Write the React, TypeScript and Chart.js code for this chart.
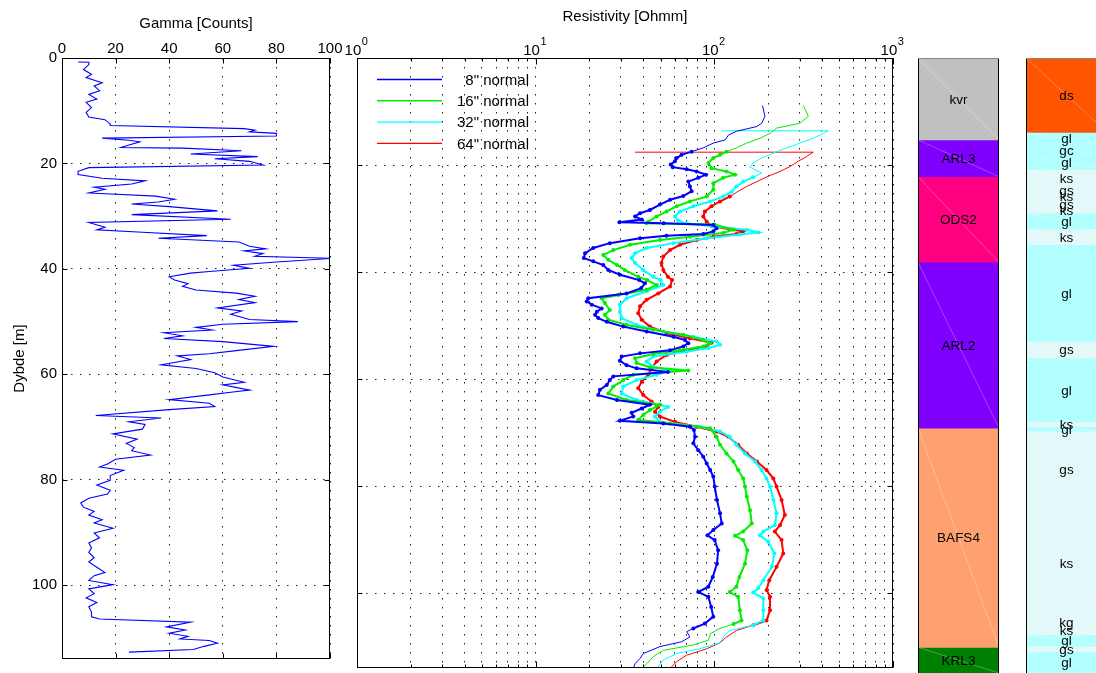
import React, { useEffect, useRef } from 'react';
import { Chart, registerables } from 'chart.js';
Chart.register(...registerables);

const FONT = '"Liberation Sans", Arial, Helvetica, sans-serif';

// ---------------- Gamma log ----------------
const gammaDepth = [0.76, 0.8, 1.25, 2.2, 3.1, 3.7, 4.7, 5.3, 6.2, 6.9, 7.8, 8.4, 9.4, 10.3, 11.2, 11.7, 12.5, 12.8, 13.4, 13.7, 14.0, 14.3, 14.8, 15.2, 15.6, 15.9, 16.5, 16.97, 17.1, 17.6, 18.2, 18.7, 19.1, 19.6, 20.3, 20.8, 21.5, 22.1, 22.8, 23.3, 23.9, 24.5, 24.9, 25.6, 26.2, 26.8, 27.3, 27.7, 28.2, 29.0, 29.7, 30.6, 31.2, 32.1, 32.6, 33.05, 33.7, 34.2, 34.9, 35.7, 36.2, 36.6, 37.1, 37.6, 38.0, 38.7, 39.3, 39.9, 40.5, 40.8, 41.5, 42.1, 42.8, 43.3, 44.0, 44.6, 45.2, 45.8, 46.4, 47.4, 48.0, 48.6, 49.3, 49.6, 50.0, 50.5, 51.1, 51.6, 52.1, 52.7, 53.2, 53.8, 54.7, 55.5, 56.1, 56.5, 57.2, 58.2, 58.9, 59.7, 60.5, 61.5, 62.0, 63.0, 63.4, 63.9, 64.8, 65.5, 66.1, 66.7, 67.8, 68.3, 69.0, 69.5, 70.4, 71.3, 72.3, 73.1, 73.9, 74.5, 75.3, 76.1, 77.0, 77.6, 78.2, 79.2, 80.1, 81.0, 82.0, 82.7, 83.5, 84.4, 85.2, 86.0, 86.7, 87.6, 88.2, 89.2, 90.1, 91.0, 92.0, 92.9, 93.8, 94.8, 95.6, 96.6, 97.6, 98.2, 99.1, 99.9, 100.7, 101.6, 102.4, 103.3, 104.1, 105.1, 106.0, 106.4, 107.0, 107.9, 108.5, 109.1, 109.7, 110.2, 110.5, 111.0, 111.6, 112.2, 112.7];
const gammaCounts = [6, 10, 10, 8, 11, 9, 15, 12, 14, 10, 13, 9, 11, 9, 10, 16, 18, 18, 68, 72, 70, 80, 80, 15, 25, 29, 25, 22, 45, 67, 48, 73, 57, 70, 75, 10, 6, 6, 15, 31, 26, 12, 16, 10, 35, 42, 36, 26, 40, 58, 26, 63, 10, 16, 13, 30, 54, 36, 66, 70, 76, 68, 75, 72, 101, 80, 64, 70, 55, 48, 40, 42, 47, 45, 50, 65, 72, 66, 72, 58, 67, 63, 68, 70, 88, 60, 50, 56, 38, 45, 38, 60, 79, 65, 55, 43, 48, 37, 50, 57, 60, 68, 60, 70, 63, 55, 40, 55, 57, 40, 12.6, 37, 25, 31, 30, 19, 28, 24, 27, 26, 33, 20, 17, 14, 23, 18, 18, 13, 18, 17, 10, 7, 8, 12, 10, 15, 12, 19, 12, 14, 10, 11, 10, 12, 10, 13, 16, 12, 10, 19, 10, 12, 9, 13, 10, 11, 11, 14, 48, 39, 46, 40, 47, 44, 55, 58, 53, 49, 25];

// ---------------- Resistivity logs ----------------
const res8Depth = [8.9, 10.9, 12.2, 12.8, 13.7, 14.4, 15.3, 15.9, 16.8, 17.5, 18.1, 18.7, 19.3, 19.9, 20.4, 20.8, 21.2, 21.8, 22.4, 23.1, 24.0, 24.9, 25.8, 26.5, 27.4, 28.4, 29.0, 29.6, 30.2, 30.7, 30.9, 31.2, 31.8, 32.4, 32.9, 33.2, 33.7, 34.6, 35.5, 36.5, 37.4, 38.0, 38.7, 39.6, 40.5, 41.5, 42.1, 43.0, 44.0, 44.9, 45.5, 46.1, 46.8, 47.4, 48.0, 48.6, 49.3, 50.2, 51.1, 52.1, 52.7, 53.3, 53.9, 54.6, 55.2, 55.8, 56.6, 57.4, 58.0, 58.7, 59.5, 60.2, 61.1, 62.0, 63.0, 63.9, 64.8, 65.5, 66.3, 67.0, 67.8, 68.3, 68.9, 69.5, 70.8, 72.0, 73.3, 74.5, 75.8, 77.0, 78.2, 80.1, 82.6, 85.1, 87.0, 88.2, 89.2, 90.1, 92.0, 94.5, 97.0, 98.8, 99.8, 100.7, 102.6, 104.4, 105.7, 106.6, 107.2, 108.2, 109.1, 110.0, 111.3, 112.2, 113.2, 114.1];
const res8Ohmm = [186, 192, 184, 173, 133, 120, 115, 98.7, 86.7, 74.6, 65.6, 61.5, 60.2, 57, 58.5, 70, 79.6, 89.8, 81.3, 71.5, 73, 74.6, 67, 56.5, 49.6, 43.6, 38.4, 36, 39.2, 29.4, 52, 98.7, 103, 98.7, 86.7, 54, 38.4, 26, 21, 18.9, 18.6, 21, 23.9, 25.5, 29.6, 38, 40.9, 39, 32.3, 19.7, 19.3, 20.6, 23.4, 22, 21.5, 22.4, 25, 30.9, 41.8, 59, 68.5, 71.5, 67, 56.5, 38.4, 30.3, 29.6, 32.3, 36.7, 55, 27.2, 26, 25, 22.9, 22.4, 28.5, 43.6, 39.2, 34.4, 35.2, 29.6, 51.8, 73, 76.9, 78, 76.3, 81.3, 86.7, 90.6, 94.8, 98.7, 100.5, 103.5, 107.6, 110, 98.7, 91.5, 100.5, 105, 103.5, 98, 92.6, 81.3, 92.6, 96, 98.7, 88.5, 76.3, 70, 73, 65.6, 49.6, 40, 38.4, 36, 35.2];

const res16Depth = [8.9, 10.9, 12.2, 13.1, 14.1, 15.0, 15.9, 16.8, 17.5, 18.1, 18.7, 19.6, 20.6, 21.2, 21.8, 22.4, 23.4, 24.6, 25.9, 26.8, 27.7, 28.7, 29.6, 30.6, 30.9, 31.1, 32.1, 32.7, 33.4, 34.0, 34.9, 35.9, 36.8, 37.7, 38.7, 39.6, 40.9, 41.5, 42.4, 43.3, 44.3, 44.9, 45.8, 47.1, 48.0, 48.9, 49.9, 50.8, 51.7, 52.7, 53.3, 53.9, 54.6, 55.3, 56.1, 57.0, 57.8, 58.4, 59.2, 60.2, 61.4, 62.7, 63.9, 64.8, 65.8, 66.7, 67.6, 68.3, 69.2, 70.8, 72.3, 73.9, 75.4, 77.0, 78.6, 80.1, 82.0, 84.5, 87.0, 88.5, 89.3, 90.1, 92.0, 94.5, 97.0, 98.8, 99.8, 100.7, 103.2, 105.1, 105.8, 106.6, 107.6, 108.8, 109.7, 110.7, 111.9, 113.2, 114.1];
const res16Ohmm = [315, 336, 301, 223, 205, 180, 152, 133, 117, 107.6, 98.7, 92.6, 96.5, 117, 130.6, 112, 98.7, 98.7, 90.6, 73, 61.5, 54, 47.5, 42.7, 41.8, 100, 128, 112, 73, 49.6, 33.8, 27.2, 23.9, 25.5, 28.5, 31.5, 37.5, 42, 47.5, 41.8, 29, 23.4, 24.4, 26, 24.4, 25.5, 32.3, 45.5, 67, 86.7, 94.8, 86.7, 64.2, 45.5, 36, 36.7, 43.6, 71.5, 35.2, 30.9, 27.2, 25.5, 32.3, 49.6, 43.6, 40, 37.5, 56.5, 94.8, 103, 107.6, 117, 128, 136, 145, 148.5, 152, 158.5, 162, 145, 130.6, 145, 153, 148.5, 138, 133, 122, 136, 139, 142, 128, 107.6, 94.8, 92.6, 76.3, 51.8, 45.5, 41.8, 39.2];

const res32Depth = [13.6, 13.6, 14.1, 15.0, 15.9, 16.8, 17.8, 18.7, 19.6, 20.4, 20.9, 21.5, 22.3, 23.1, 24.0, 25.0, 25.9, 26.8, 27.7, 28.7, 29.6, 30.4, 30.9, 31.5, 32.1, 32.6, 33.0, 33.7, 34.6, 35.5, 36.5, 37.4, 38.3, 39.6, 40.9, 41.5, 42.4, 43.6, 44.9, 46.1, 47.4, 48.6, 49.9, 51.1, 52.1, 53.0, 53.6, 54.2, 54.9, 55.8, 56.7, 57.7, 58.4, 59.2, 60.2, 61.4, 62.7, 63.9, 65.2, 66.1, 67.0, 68.0, 68.9, 69.8, 70.8, 72.3, 73.9, 75.4, 77.0, 78.6, 80.1, 82.6, 85.1, 87.3, 88.5, 89.2, 90.4, 92.6, 95.1, 97.6, 99.1, 99.9, 101.0, 103.2, 105.1, 106.0, 107.0, 108.2, 109.3, 110.4, 111.3, 112.5, 113.8];
const res32Ohmm = [110, 434, 407, 358, 301, 254, 214, 184, 165, 158.5, 169, 184, 165, 145, 133, 125, 112, 94.8, 76.3, 64.2, 60.2, 62.8, 70, 98.7, 152, 176, 139, 90.6, 59, 41.8, 36, 34.4, 36, 40, 45.5, 50, 51.8, 41.8, 32.3, 29.6, 29.6, 30.3, 36.7, 51.8, 76.3, 103, 107.6, 92.6, 70, 45.5, 41.8, 45.5, 56.5, 47.5, 36.7, 30.9, 30.3, 36.7, 55, 49.6, 46.5, 49.6, 83, 107.6, 122, 133, 148.5, 169, 184, 196, 205, 214, 223, 218, 188, 180, 200, 217, 210, 188, 176, 165, 188, 188, 188, 165, 122, 112, 107.6, 83, 61.5, 51.8, 48.5];

const res64Depth = [17.6, 17.6, 18.4, 19.3, 20.3, 21.2, 22.1, 23.1, 24.0, 24.9, 25.9, 26.8, 27.7, 28.7, 29.6, 30.6, 31.4, 32.0, 32.4, 32.9, 33.4, 34.0, 34.9, 35.9, 37.1, 38.3, 39.6, 40.9, 41.5, 42.7, 44.0, 45.2, 46.4, 47.7, 48.9, 50.2, 51.4, 52.4, 53.2, 53.9, 54.6, 55.5, 56.7, 58.0, 59.2, 60.5, 61.7, 63.0, 64.2, 65.2, 66.1, 67.0, 68.0, 68.9, 69.8, 70.8, 72.3, 73.9, 75.4, 77.0, 78.6, 80.1, 82.6, 85.4, 87.3, 88.5, 90.1, 92.6, 95.1, 97.6, 99.4, 100.7, 103.2, 105.1, 106.0, 107.0, 108.2, 109.3, 110.4, 111.6, 112.8, 114.1];
const res64Ohmm = [36, 358, 329, 295, 265, 233, 200, 173, 152, 136, 122, 107.6, 96.5, 88.5, 86.7, 90.6, 96.5, 122, 145, 133, 98.7, 79.6, 64.2, 56.5, 51.8, 50.6, 51.8, 55, 58, 56.5, 48.5, 41.8, 38.4, 37.5, 39.2, 43.6, 54, 73, 96.5, 90.6, 70, 54, 47.5, 44.5, 42.7, 39.2, 37.5, 40, 44.5, 48.5, 46.5, 49.6, 60.2, 79.6, 103, 120, 136, 152, 173, 196, 214, 223, 238, 248, 233, 218, 238, 243, 223, 203, 196, 205, 205, 196, 165, 133, 117, 107.6, 90.6, 70, 61.5, 56.5];

const seriesLabels = ['8" normal', '16" normal', '32" normal', '64" normal'];
const seriesDepths = [res8Depth, res16Depth, res32Depth, res64Depth];
const seriesOhmm = [res8Ohmm, res16Ohmm, res32Ohmm, res64Ohmm];
const seriesColors = ['#0000ff', '#00ee00', '#00ffff', '#ff0000'];
const markerRanges = [[17.5, 106.6], [17.5, 106.0], [21.8, 106.0], [25.2, 106.0]];

// ---------------- Ticks ----------------
const gammaTicks = [0, 20, 40, 60, 80, 100];
const depthTicks = [0, 20, 40, 60, 80, 100];
const resDecades = [1, 10, 100, 1000];
const resExponents = ['0', '1', '2', '3'];
const resMinorMultipliers = [1, 2, 3, 4, 5, 6, 7, 8, 9];

// ---------------- Formations ----------------
const formationNames = ['kvr', 'ARL3', 'ODS2', 'ARL2', 'BAFS4', 'KRL3'];
const formationTops = [0, 15.3, 22.2, 38.2, 69.2, 110.2];
const formationBottoms = [15.3, 22.2, 38.2, 69.2, 110.2, 115];
const formationColors = ['#c0c0c0', '#8000ff', '#ff0080', '#8000ff', '#ffa070', '#008000'];

// ---------------- Lithology ----------------
const lithNames = ['ds', 'gl', 'gc', 'gl', 'ks', 'gs', 'ks', 'gs', 'ks', 'gl', 'ks', 'gl', 'gs', 'gl', 'ks', 'gl', 'gs', 'ks', 'kg', 'ks', 'gl', 'gs', 'gl'];
const lithTops = [0, 13.9, 16.3, 18.2, 20.9, 24.0, 25.3, 26.6, 28.0, 29.0, 32.0, 34.9, 53.0, 56.1, 68.0, 68.9, 69.8, 84.1, 104.8, 106.3, 107.9, 110.0, 111.0];
const lithBottoms = [13.9, 16.3, 18.2, 20.9, 24.0, 25.3, 26.6, 28.0, 29.0, 32.0, 34.9, 53.0, 56.1, 68.0, 68.9, 69.8, 84.1, 104.8, 106.3, 107.9, 110.0, 111.0, 115];
const lithColorMap: Record<string, string> = { ds: '#ff5500', gl: '#b2ffff', gc: '#b2ffff', ks: '#e3f9f9', gs: '#e3f9f9', kg: '#e3f9f9' };

const pts = (d: number[], v: number[]) => d.map((y, i) => ({ x: v[i], y }));

function framePlugin(kind: 'gamma' | 'res') {
  return {
    id: 'frame_' + kind,
    afterDraw(chart: any) {
      const { ctx, chartArea: a, scales } = chart;
      const xs = scales.x, ys = scales.y;
      ctx.save();
      ctx.strokeStyle = '#000';
      ctx.lineWidth = 1;
      const L = Math.round(a.left) + 0.5, T = Math.round(a.top) + 0.5;
      const R = Math.round(a.right) - 0.5, B = Math.round(a.bottom) - 0.5;
      ctx.strokeRect(L, T, R - L, B - T);
      ctx.beginPath();
      xs.ticks.forEach((t: any) => {
        const px = Math.round(xs.getPixelForValue(t.value)) + 0.5;
        let len = 5;
        if (kind === 'res') {
          const lg = Math.log10(t.value);
          len = Math.abs(lg - Math.round(lg)) < 1e-6 ? 6 : 3;
        }
        ctx.moveTo(px, T); ctx.lineTo(px, T + len);
        ctx.moveTo(px, B); ctx.lineTo(px, B - len);
      });
      ys.ticks.forEach((t: any) => {
        const py = Math.round(ys.getPixelForValue(t.value)) + 0.5;
        ctx.moveTo(L, py); ctx.lineTo(L + 5, py);
        ctx.moveTo(R, py); ctx.lineTo(R - 5, py);
      });
      ctx.stroke();

      if (kind === 'res') {
        // decade labels with superscripts
        ctx.fillStyle = '#000';
        ctx.textBaseline = 'alphabetic';
        resDecades.forEach((v, i) => {
          const px = xs.getPixelForValue(v);
          ctx.font = `15px ${FONT}`;
          const w1 = ctx.measureText('10').width;
          ctx.font = `11px ${FONT}`;
          const w2 = ctx.measureText(resExponents[i]).width;
          const start = px - (w1 + w2) / 2 - 1;
          ctx.font = `15px ${FONT}`;
          ctx.textAlign = 'left';
          ctx.fillText('10', start, 55);
          ctx.font = `11px ${FONT}`;
          ctx.fillText(resExponents[i], start + w1 + 0.5, 45);
        });
        // legend
        ctx.font = `15px ${FONT}`;
        ctx.textAlign = 'right';
        ctx.textBaseline = 'middle';
        seriesLabels.forEach((lab, i) => {
          const y = 79.5 + i * 21.3;
          ctx.strokeStyle = seriesColors[i];
          ctx.lineWidth = 1.4;
          ctx.beginPath();
          ctx.moveTo(a.left + 20, y);
          ctx.lineTo(a.left + 85, y);
          ctx.stroke();
          ctx.fillStyle = '#000';
          ctx.fillText(lab, a.left + 172, y + 1);
        });
      }
      ctx.restore();
    },
  };
}

function columnPlugin(names: string[], tops: number[], bottoms: number[], rightBorder: boolean) {
  return {
    id: 'column',
    afterDraw(chart: any) {
      const { ctx, chartArea: a, scales } = chart;
      const ys = scales.y;
      const colW = 81;
      ctx.save();
      // faint diagonals
      ctx.strokeStyle = 'rgba(255,255,255,0.35)';
      ctx.lineWidth = 0.8;
      names.forEach((_, i) => {
        const y1 = ys.getPixelForValue(tops[i]);
        const y2 = ys.getPixelForValue(bottoms[i]);
        ctx.beginPath();
        ctx.moveTo(a.left, y1);
        ctx.lineTo(a.left + colW, y2);
        ctx.stroke();
      });
      // labels
      ctx.fillStyle = '#000';
      ctx.font = `13.5px ${FONT}`;
      ctx.textAlign = 'center';
      ctx.textBaseline = 'middle';
      names.forEach((n, i) => {
        const y = ys.getPixelForValue((tops[i] + bottoms[i]) / 2);
        ctx.fillText(n, a.left + colW / 2, y + 1);
      });
      // borders
      ctx.lineWidth = 1;
      ctx.strokeStyle = '#000';
      ctx.beginPath();
      const L = Math.round(a.left) + 0.5;
      ctx.moveTo(L, a.top); ctx.lineTo(L, a.bottom);
      if (rightBorder) {
        const R = Math.round(a.right) - 0.5;
        ctx.moveTo(R, a.top); ctx.lineTo(R, a.bottom);
      }
      ctx.stroke();
      ctx.strokeStyle = '#888';
      ctx.beginPath();
      ctx.moveTo(a.left, Math.round(a.top) + 0.5);
      ctx.lineTo(a.right, Math.round(a.top) + 0.5);
      ctx.stroke();
      ctx.restore();
    },
  };
}

const tickFont = { family: FONT, size: 15 };
const titleFont = { family: FONT, size: 15 };
const GRID_DASH = [1.5, 7.5];

function makeGamma(canvas: HTMLCanvasElement) {
  return new Chart(canvas, {
    type: 'scatter',
    data: {
      datasets: [{
        data: pts(gammaDepth, gammaCounts),
        showLine: true,
        borderColor: '#0000ff',
        borderWidth: 1.1,
        pointRadius: 0,
        tension: 0,
      }],
    },
    options: {
      animation: false,
      responsive: false,
      devicePixelRatio: 1,
      layout: { padding: { left: 0, right: 15, top: 0, bottom: 5 } },
      plugins: { legend: { display: false }, tooltip: { enabled: false } },
      scales: {
        x: {
          type: 'linear', position: 'top', min: 0, max: 100,
          afterBuildTicks: (s: any) => { s.ticks = gammaTicks.map((v) => ({ value: v })); },
          afterFit: (s: any) => { s.height = 58; },
          ticks: { font: tickFont, color: '#000', padding: 0.5, maxRotation: 0, autoSkip: false },
          grid: { color: '#222', lineWidth: 1, drawTicks: false },
          border: { display: false, dash: GRID_DASH },
          title: { display: true, text: 'Gamma [Counts]', font: titleFont, color: '#000', padding: { top: 15, bottom: 0 } },
        },
        y: {
          type: 'linear', position: 'left', reverse: true, min: 0, max: 114,
          afterBuildTicks: (s: any) => { s.ticks = depthTicks.map((v) => ({ value: v })); },
          afterFit: (s: any) => { s.width = 62; },
          ticks: { font: tickFont, color: '#000', padding: 5, autoSkip: false },
          grid: { color: '#222', lineWidth: 1, drawTicks: false },
          border: { display: false, dash: GRID_DASH },
          title: { display: true, text: 'Dybde [m]', font: titleFont, color: '#000', padding: { top: 11, bottom: 0 } },
        },
      },
    } as any,
    plugins: [framePlugin('gamma')],
  });
}

function makeRes(canvas: HTMLCanvasElement) {
  const allTicks: number[] = [];
  resDecades.slice(0, 3).forEach((d) => resMinorMultipliers.forEach((m) => allTicks.push(d * m)));
  allTicks.push(1000);
  return new Chart(canvas, {
    type: 'scatter',
    data: {
      datasets: seriesLabels.map((lab, i) => {
        const inRange = (d: number) => d >= markerRanges[i][0] && d <= markerRanges[i][1];
        return {
          label: lab,
          data: pts(seriesDepths[i], seriesOhmm[i]),
          showLine: true,
          borderColor: seriesColors[i],
          borderWidth: 1,
          segment: {
            borderWidth: (c: any) => (inRange(c.p0.parsed.y) && inRange(c.p1.parsed.y) ? 2 : 1),
          },
          pointBackgroundColor: seriesColors[i],
          pointBorderWidth: 0,
          pointRadius: (c: any) => {
            const d = c.raw ? c.raw.y : 0;
            return inRange(d) ? 2 : 0;
          },
          tension: 0,
        };
      }),
    },
    options: {
      animation: false,
      responsive: false,
      devicePixelRatio: 1,
      layout: { padding: { left: 17, right: 17, top: 0, bottom: 5 } },
      plugins: { legend: { display: false }, tooltip: { enabled: false } },
      scales: {
        x: {
          type: 'logarithmic', position: 'top', min: 1, max: 1000,
          afterBuildTicks: (s: any) => { s.ticks = allTicks.map((v) => ({ value: v })); },
          afterFit: (s: any) => { s.height = 58; },
          ticks: { display: false },
          grid: { color: '#222', lineWidth: 1, drawTicks: false },
          border: { display: false, dash: GRID_DASH },
          title: { display: true, text: 'Resistivity [Ohmm]', font: titleFont, color: '#000', padding: { top: 8, bottom: 0 } },
        },
        y: {
          type: 'linear', position: 'left', reverse: true, min: 0, max: 114,
          afterBuildTicks: (s: any) => { s.ticks = depthTicks.map((v) => ({ value: v })); },
          afterFit: (s: any) => { s.width = 0; },
          ticks: { display: false },
          grid: { color: '#222', lineWidth: 1, drawTicks: false },
          border: { display: false, dash: GRID_DASH },
        },
      },
    } as any,
    plugins: [framePlugin('res')],
  });
}

function makeColumn(canvas: HTMLCanvasElement, names: string[], tops: number[], bottoms: number[], colors: string[], padLeft: number, padRight: number, rightBorder: boolean) {
  return new Chart(canvas, {
    type: 'bar',
    data: {
      labels: [''],
      datasets: names.map((n, i) => ({
        label: n,
        data: [[tops[i], bottoms[i]]],
        backgroundColor: colors[i],
        borderWidth: 0,
        grouped: false,
        barPercentage: 1,
        categoryPercentage: 1,
      })),
    },
    options: {
      animation: false,
      responsive: false,
      devicePixelRatio: 1,
      layout: { padding: { left: padLeft, right: padRight, top: 58, bottom: 0 } },
      plugins: { legend: { display: false }, tooltip: { enabled: false } },
      scales: {
        x: { type: 'category', display: false },
        y: { type: 'linear', display: false, reverse: true, min: 0, max: 115 },
      },
    } as any,
    plugins: [columnPlugin(names, tops, bottoms, rightBorder)],
  });
}

function Panel({ left, width, make }: { left: number; width: number; make: (c: HTMLCanvasElement) => Chart }) {
  const ref = useRef<HTMLCanvasElement>(null);
  useEffect(() => {
    if (!ref.current) return;
    const chart = make(ref.current);
    return () => chart.destroy();
  }, []);
  return (
    <div style={{ position: 'absolute', left, top: 0, width, height: 673 }}>
      <canvas ref={ref} width={width} height={673} style={{ display: 'block', width, height: 673 }} />
    </div>
  );
}

export default function App() {
  return (
    <div style={{ position: 'absolute', left: 0, top: 0, width: 1096, height: 673, background: '#fff', overflow: 'hidden' }}>
      <Panel left={0} width={345} make={makeGamma} />
      <Panel left={340} width={570} make={makeRes} />
      <Panel
        left={905}
        width={105}
        make={(c) => makeColumn(c, formationNames, formationTops, formationBottoms, formationColors, 13, 11, true)}
      />
      <Panel
        left={1015}
        width={81}
        make={(c) => makeColumn(c, lithNames, lithTops, lithBottoms, lithNames.map((n) => lithColorMap[n]), 11, 0, false)}
      />
    </div>
  );
}
